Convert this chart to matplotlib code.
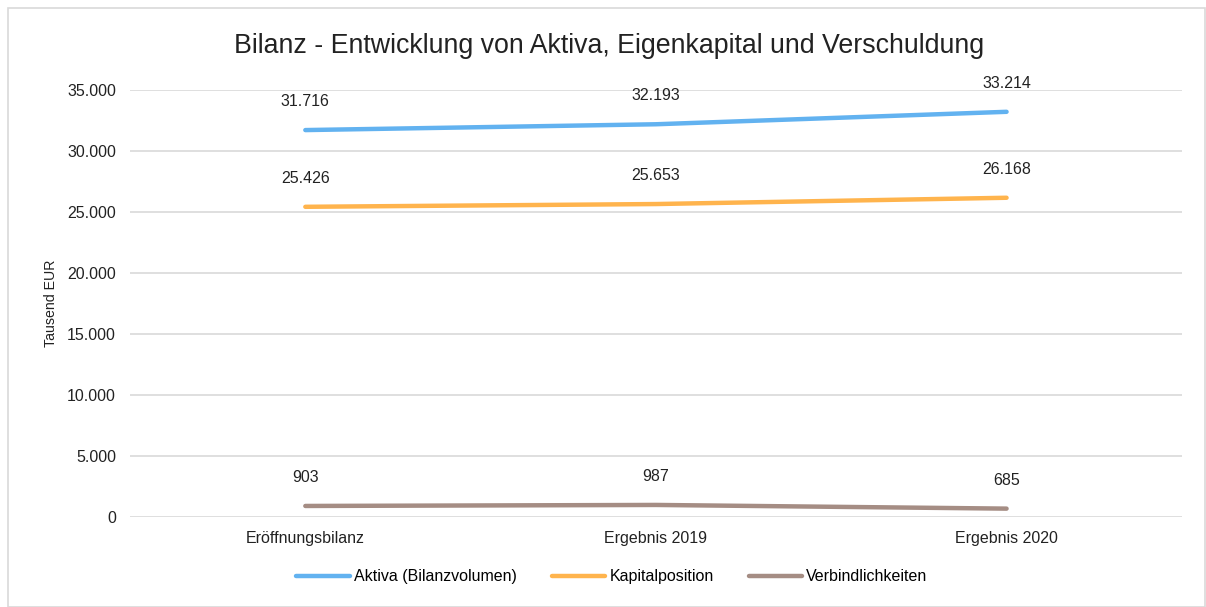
import matplotlib
matplotlib.use("Agg")
import matplotlib.pyplot as plt
from matplotlib.patches import Rectangle

plt.rcParams['font.family'] = ['Liberation Sans', 'DejaVu Sans']

categories = ["Eröffnungsbilanz", "Ergebnis 2019", "Ergebnis 2020"]
aktiva = [31716, 32193, 33214]
kapital = [25426, 25653, 26168]
verbindlichkeiten = [903, 987, 685]

series = [
    ("Aktiva (Bilanzvolumen)", aktiva, "#62B2F0"),
    ("Kapitalposition", kapital, "#FFB44D"),
    ("Verbindlichkeiten", verbindlichkeiten, "#A58D84"),
]

def fmt(v):
    return f"{v:,.0f}".replace(",", ".")

fs = 11.5
fig = plt.figure(figsize=(12.06, 6.07), dpi=100)
ax = fig.add_axes([0.1078, 0.1483, 0.8722, 0.7034])

x = range(len(categories))
for name, vals, col in series:
    ax.plot(x, vals, color=col, lw=3.2, solid_capstyle="round", label=name)
    for xi, v in zip(x, vals):
        ax.annotate(fmt(v), (xi, v), xytext=(0, 20.5), textcoords="offset points",
                    ha="center", va="center", fontsize=fs, color="#222222")

ax.set_xlim(-0.5, 2.5)
ax.set_ylim(0, 35000)
ax.set_yticks(range(0, 35001, 5000))
ax.set_yticklabels([fmt(v) for v in range(0, 35001, 5000)])
ax.set_xticks(list(x))
ax.set_xticklabels(categories)
ax.tick_params(length=0, labelsize=fs, colors="#222222")
ax.tick_params(axis="y", pad=10)
ax.tick_params(axis="x", pad=10)
ax.grid(axis="y", color="#D9D9D9", lw=1.2)
ax.set_axisbelow(True)
for s in ax.spines.values():
    s.set_visible(False)
ax.set_ylabel("Tausend EUR", fontsize=10.2, color="#222222")
ax.yaxis.set_label_coords(-0.068, 0.5)

fig.text(0.505, 0.925, "Bilanz - Entwicklung von Aktiva, Eigenkapital und Verschuldung",
         ha="center", va="center", fontsize=19.3, color="#222222")

fig.legend(loc="center", bbox_to_anchor=(0.5075, 0.05), ncol=3, frameon=False,
           fontsize=fs, handlelength=3.35, columnspacing=2.2, handletextpad=0.25)

fig.patches.append(Rectangle((0.007, 0.0), 0.992, 0.987, transform=fig.transFigure,
                             fill=False, edgecolor="#D9D9D9", lw=1.2))

fig.savefig("out.png", dpi=100)
